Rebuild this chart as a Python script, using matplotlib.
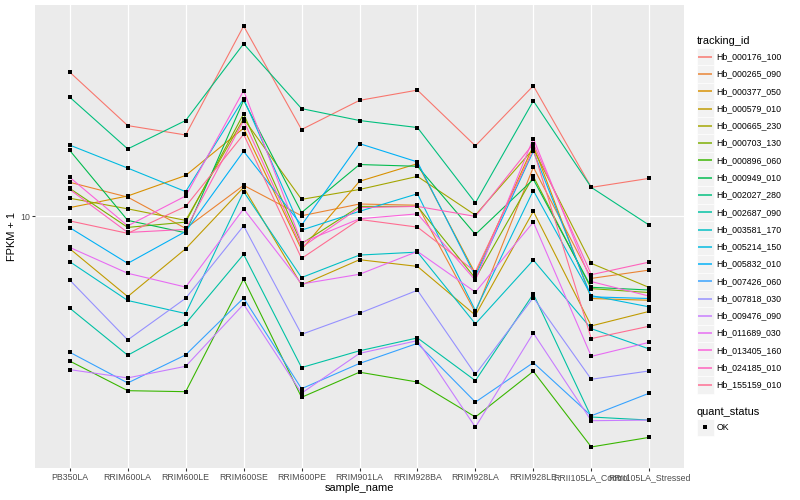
import numpy as np
import matplotlib
matplotlib.use("Agg")
import matplotlib.pyplot as plt
from matplotlib.patches import Rectangle
from matplotlib.ticker import FixedLocator, FixedFormatter, NullLocator

plt.rcParams['font.family'] = ['Liberation Sans', 'DejaVu Sans']

samples = ["PB350LA", "RRIM600LA", "RRIM600LE", "RRIM600SE", "RRIM600PE",
           "RRIM901LA", "RRIM928BA", "RRIM928LA", "RRIM928LE",
           "RRII105LA_Control", "RRII105LA_Stressed"]

tracking_ids = ["Hb_000176_100", "Hb_000265_090", "Hb_000377_050", "Hb_000579_010",
                "Hb_000665_230", "Hb_000703_130", "Hb_000896_060", "Hb_000949_010",
                "Hb_002027_280", "Hb_002687_090", "Hb_003581_170", "Hb_005214_150",
                "Hb_005832_010", "Hb_007426_060", "Hb_007818_030", "Hb_009476_090",
                "Hb_011689_030", "Hb_013405_160", "Hb_024185_010", "Hb_155159_010"]

# FPKM + 1 values, one list per tracking_id, in sample order
hb_000176_100 = [30.3, 20.1, 18.7, 43.2, 19.5, 24.4, 26.4, 17.2, 27.3, 12.5, 13.4]
hb_000265_090 = [13.0, 11.6, 9.12, 12.7, 10.05, 11.0, 10.9, 4.78, 14.6, 6.21, 6.62]
hb_000377_050 = [10.7, 11.7, 13.7, 19.7, 7.76, 13.1, 15.0, 6.44, 17.2, 5.32, 5.25]
hb_000579_010 = [7.80, 5.40, 7.80, 12.5, 5.90, 7.17, 6.81, 4.68, 10.4, 4.31, 4.82]
hb_000665_230 = [11.5, 10.6, 9.70, 21.2, 11.4, 12.3, 13.6, 10.1, 16.8, 6.97, 5.79]
hb_000703_130 = [12.4, 9.19, 9.57, 22.0, 8.11, 10.8, 10.8, 6.21, 13.6, 5.74, 5.57]
hb_000896_060 = [3.29, 2.62, 2.60, 6.18, 2.49, 3.02, 2.80, 2.14, 3.04, 1.70, 1.83]
hb_000949_010 = [16.6, 9.70, 8.82, 24.4, 10.3, 14.9, 14.7, 8.71, 13.3, 5.80, 5.68]
hb_002027_280 = [25.0, 16.8, 20.9, 37.7, 22.9, 20.9, 19.8, 11.1, 24.3, 12.5, 9.35]
hb_002687_090 = [4.94, 3.44, 4.39, 7.47, 3.13, 3.56, 3.93, 2.83, 5.51, 2.14, 2.09]
hb_003581_170 = [7.06, 5.24, 4.74, 12.1, 6.25, 7.43, 7.60, 4.38, 7.15, 4.22, 3.61]
hb_005214_150 = [17.3, 14.5, 12.1, 24.7, 9.00, 10.4, 11.9, 4.85, 12.2, 5.44, 4.99]
hb_005832_010 = [9.17, 6.97, 8.91, 16.5, 9.35, 17.5, 15.2, 6.32, 16.5, 5.39, 5.32]
hb_007426_060 = [3.52, 2.78, 3.45, 5.34, 2.66, 3.23, 3.77, 2.40, 3.25, 2.16, 2.57]
hb_007818_030 = [6.13, 3.87, 5.33, 9.30, 4.04, 4.75, 5.67, 2.97, 5.36, 2.86, 3.05]
hb_009476_090 = [3.08, 2.89, 3.16, 5.09, 2.57, 3.49, 3.85, 1.98, 4.08, 2.08, 2.09]
hb_011689_030 = [7.88, 6.46, 5.81, 10.6, 5.95, 6.41, 7.64, 5.59, 9.57, 3.41, 3.80]
hb_013405_160 = [13.5, 9.30, 11.7, 26.3, 8.17, 9.82, 10.2, 6.12, 18.2, 6.06, 5.42]
hb_024185_010 = [12.3, 8.84, 9.05, 20.9, 7.88, 10.7, 10.8, 10.0, 17.5, 6.39, 7.04]
hb_155159_010 = [9.66, 8.78, 10.8, 18.8, 7.24, 9.77, 9.21, 6.54, 16.7, 3.91, 4.30]

series = [hb_000176_100, hb_000265_090, hb_000377_050, hb_000579_010, hb_000665_230,
          hb_000703_130, hb_000896_060, hb_000949_010, hb_002027_280, hb_002687_090,
          hb_003581_170, hb_005214_150, hb_005832_010, hb_007426_060, hb_007818_030,
          hb_009476_090, hb_011689_030, hb_013405_160, hb_024185_010, hb_155159_010]

quant_status = ["OK"]

colors = ["#F8766D", "#EA8331", "#D89000", "#C09B00", "#A3A500", "#7CAE00", "#39B600",
          "#00BB4E", "#00BF7D", "#00C1A3", "#00BFC4", "#00BAE0", "#00B0F6", "#35A2FF",
          "#9590FF", "#C77CFF", "#E76BF3", "#FA62DB", "#FF62BC", "#FF6C91"]

DPI = 72
W, H = 800, 500
fig = plt.figure(figsize=(W / DPI, H / DPI), dpi=DPI)
fig.patch.set_facecolor("white")

pl, pr, pt, pb = 35, 684, 5, 468
ax = fig.add_axes([pl / W, 1 - pb / H, (pr - pl) / W, (pb - pt) / H])
ax.set_facecolor("#EBEBEB")

x = np.arange(len(samples))
for vals, col in zip(series, colors):
    ax.plot(x, vals, color=col, lw=1.1, zorder=2)
for vals in series:
    ax.plot(x, vals, ls="none", marker="s", ms=3.3, mew=0, color="black", zorder=3)

ax.set_yscale("log")
allv = np.concatenate([np.asarray(v, float) for v in series])
lo, hi = np.log10(allv.min()), np.log10(allv.max())
pad = 0.05 * (hi - lo)
ax.set_ylim(10 ** (lo - pad), 10 ** (hi + pad))
ax.set_xlim(-0.6, len(samples) - 0.4)

ax.yaxis.set_major_locator(FixedLocator([10]))
ax.yaxis.set_major_formatter(FixedFormatter(["10"]))
ax.yaxis.set_minor_locator(NullLocator())
ax.set_xticks(x)
ax.set_xticklabels(samples)
ax.xaxis.set_minor_locator(NullLocator())

ax.set_axisbelow(True)
ax.grid(True, which="major", color="white", lw=1.3)
for s in ax.spines.values():
    s.set_visible(False)
ax.tick_params(length=2.75, width=1.07, color="#333333", labelcolor="#4D4D4D",
               labelsize=8.8, pad=2.2)

fig.text((pl + pr) / 2 / W, 1 - 488 / H, "sample_name", fontsize=11,
         ha="center", va="center", color="black")
fig.text(12 / W, 1 - (pt + pb) / 2 / H, "FPKM + 1", fontsize=11, rotation=90,
         ha="center", va="center", color="black")

# legend drawn in pixel coordinates
lax = fig.add_axes([0, 0, 1, 1], zorder=5)
lax.set_xlim(0, W)
lax.set_ylim(H, 0)
lax.axis("off")

kx, ks = 696.5, 17.28
lax.text(kx, 40.7, "tracking_id", fontsize=11, ha="left", va="center")
for i, (tid, col) in enumerate(zip(tracking_ids, colors)):
    yc = 56.7 + ks * i
    lax.add_patch(Rectangle((kx, yc - ks / 2), ks, ks, fc="#F2F2F2", ec="white",
                            lw=0.6, zorder=1))
    lax.plot([kx + 1.2, kx + ks - 1.8], [yc, yc], color=col, lw=1.5, zorder=3,
             solid_capstyle="butt")
    lax.text(kx + ks + 2.8, yc, tid, fontsize=8.8, ha="left", va="center")

lax.text(kx, 411.7, "quant_status", fontsize=11, ha="left", va="center")
for j, qs in enumerate(quant_status):
    yc = 427.3 + ks * j
    lax.add_patch(Rectangle((kx, yc - ks / 2), ks, ks, fc="#F2F2F2", ec="white",
                            lw=0.6, zorder=1))
    lax.plot([kx + ks / 2], [yc], ls="none", marker="s", ms=3.3, mew=0,
             color="black", zorder=3)
    lax.text(kx + ks + 2.8, yc, qs, fontsize=8.8, ha="left", va="center")

fig.savefig("out.png", dpi=DPI)
